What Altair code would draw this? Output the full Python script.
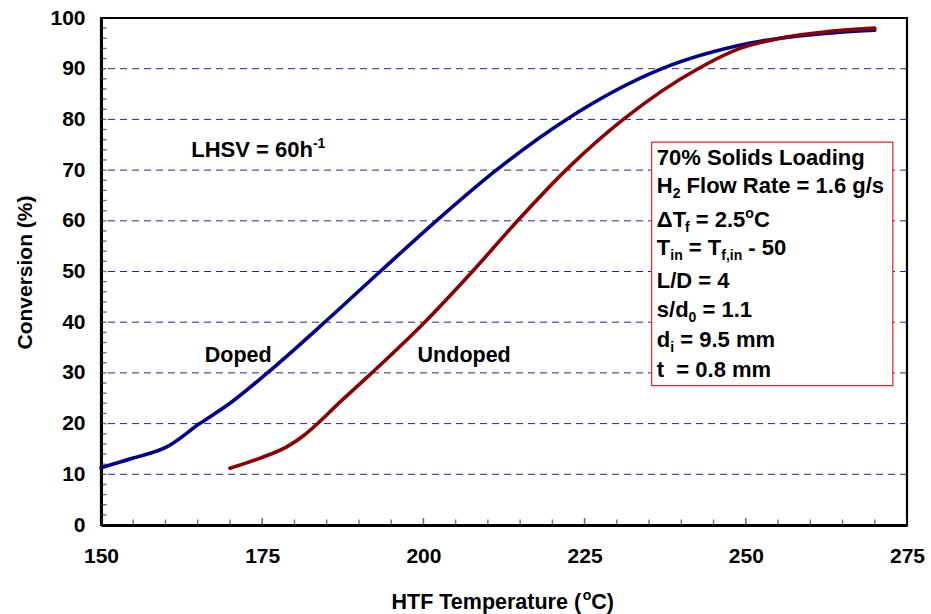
import altair as alt
import pandas as pd

# ---- data -------------------------------------------------------------
temps_doped = [150, 155, 160.2, 165.3, 170, 175.8, 184.7, 193.3, 202.0, 211.3,
               222.2, 237.0, 250.5, 264.6, 270]
conv_doped = [11.3, 13.2, 15.4, 20.0, 24.0, 30.0, 40.0, 50.0, 60.0, 70.0,
              80.0, 90.0, 95.0, 97.2, 97.6]

temps_undoped = [170, 174.7, 178.8, 181.4, 183.5, 186.6, 192.0, 200.2, 207.6, 214.6,
                 222.1, 231.0, 242.6, 249.1, 255.3, 262.0, 270]
conv_undoped = [11.2, 13.2, 15.4, 17.6, 19.9, 23.7, 30.0, 40.0, 50.0, 60.0,
                70.0, 80.0, 90.0, 94.0, 96.0, 97.2, 98.0]

series_names = ["Doped", "Undoped"]
series_colors = ["#00008E", "#8B0000"]

x_ticks = [150, 175, 200, 225, 250, 275]
y_ticks = list(range(0, 101, 10))
grid_levels = list(range(10, 100, 10))
x_minor = list(range(150, 276, 5))
y_minor = list(range(0, 101, 2))

box_lines = [
    [("70% Solids Loading", "n")],
    [("H", "n"), ("2", "sub"), (" Flow Rate = 1.6 g/s", "n")],
    [("\u0394T", "n"), ("f", "sub"), (" = 2.5", "n"), ("o", "sup"), ("C", "n")],
    [("T", "n"), ("in", "sub"), (" = T", "n"), ("f,in", "sub"), (" - 50", "n")],
    [("L/D = 4", "n")],
    [("s/d", "n"), ("0", "sub"), (" = 1.1", "n")],
    [("d", "n"), ("i", "sub"), (" = 9.5 mm", "n")],
    [("t  = 0.8 mm", "n")],
]

# ---- geometry ---------------------------------------------------------
W, H = 806, 507
X0, X1 = 150, 275
Y0, Y1 = 0, 100
UX = (X1 - X0) / W      # data units per pixel, x
UY = (Y1 - Y0) / H      # data units per pixel, y
FONT = "Liberation Sans"

# Arial / Liberation Sans Bold advance widths (1/1000 em)
ADV = {" ": 278, "%": 889, "(": 333, ")": 333, ",": 278, "-": 333, ".": 278,
       "/": 278, "=": 584, "A": 722, "C": 722, "D": 722, "F": 611, "H": 722,
       "L": 611, "R": 722, "S": 667, "T": 611, "U": 722, "V": 667, "a": 556,
       "d": 611, "e": 556, "f": 333, "g": 611, "h": 611, "i": 278, "l": 278,
       "m": 889, "n": 611, "o": 611, "p": 611, "r": 389, "s": 556, "t": 333,
       "u": 611, "w": 778, "\u0394": 670}
for ch in "0123456789":
    ADV[ch] = 556


def text_width(s, size):
    return sum(ADV.get(c, 600) for c in s) / 1000.0 * size


MAIN, SMALL = 22, 14
SHIFT = {"n": 0, "sub": 5, "sup": -9}


def rich_rows(parts, x, y, size=MAIN, small=SMALL, center=False):
    """Lay out a run of normal / subscript / superscript pieces from a
    left (or centre) anchor in data coordinates on one baseline."""
    sizes = [size if k == "n" else small for _, k in parts]
    total = sum(text_width(t, s) for (t, _), s in zip(parts, sizes))
    off = -total / 2 if center else 0.0
    rows = []
    for (t, k), s in zip(parts, sizes):
        # leading blanks become an explicit advance (they are not rendered)
        body = t.lstrip(" ")
        off += text_width(t[:len(t) - len(body)], s)
        rows.append({"x": x + off * UX, "y": y - SHIFT[k] * UY,
                     "text": body.replace(" ", "\u00a0"), "fs": s})
        off += text_width(body, s)
    return rows


# ---- curves -----------------------------------------------------------
curves = pd.concat([
    pd.DataFrame({"T": temps_doped, "C": conv_doped, "series": series_names[0]}),
    pd.DataFrame({"T": temps_undoped, "C": conv_undoped, "series": series_names[1]}),
])

xs = alt.Scale(domain=[X0, X1], nice=False, zero=False)
ys = alt.Scale(domain=[Y0, Y1], nice=False)

label_style = dict(labelFont=FONT, labelFontSize=21, labelFontWeight="bold",
                   labelColor="black", labelFlush=False, labelOverlap=False)

base_x = alt.X("T:Q", scale=xs,
               axis=alt.Axis(values=x_ticks, ticks=False, grid=False, title=None,
                             labelPadding=20, domainColor="black", domainWidth=3,
                             **label_style))
base_y = alt.Y("C:Q", scale=ys,
               axis=alt.Axis(values=y_ticks, ticks=False, grid=False,
                             title="Conversion (%)", titleFont=FONT, titleFontSize=21,
                             titleFontWeight="bold", titleColor="black",
                             titleAngle=-90, titleX=-76, titleY=254,
                             titleAlign="center", titleBaseline="middle",
                             labelPadding=16, domainColor="black", domainWidth=3,
                             **label_style))

lines = alt.Chart(curves).mark_line(interpolate="monotone", strokeWidth=3.6,
                                    strokeCap="round").encode(
    x=base_x, y=base_y,
    color=alt.Color("series:N", scale=alt.Scale(domain=series_names, range=series_colors),
                    legend=None),
    detail="series:N",
)

grid = alt.Chart(pd.DataFrame({"g": grid_levels})).mark_rule(
    color="#00008B", opacity=0.85, strokeWidth=1, strokeDash=[7, 5]
).encode(y=alt.Y("g:Q", scale=ys))

xtick_df = pd.DataFrame({"t": x_minor, "major": [v % 25 == 0 for v in x_minor]})
xticks_minor = alt.Chart(xtick_df[~xtick_df.major]).mark_tick(
    orient="vertical", size=11, thickness=1.4, color="#333333", clip=True
).encode(x=alt.X("t:Q", scale=xs), y=alt.datum(0, scale=ys))
xticks_major = alt.Chart(xtick_df[xtick_df.major]).mark_tick(
    orient="vertical", size=14, thickness=1.6, color="#333333", clip=True
).encode(x=alt.X("t:Q", scale=xs), y=alt.datum(0, scale=ys))
yticks = alt.Chart(pd.DataFrame({"t": y_minor})).mark_tick(
    orient="horizontal", size=11, thickness=1.4, color="#333333", clip=True
).encode(y=alt.Y("t:Q", scale=ys), x=alt.datum(X0, scale=xs))

# ---- annotation box ---------------------------------------------------
box = alt.Chart(pd.DataFrame({"x": [235.4], "x2": [272.8], "y": [27.5], "y2": [75.5]})).mark_rect(
    fill="white", stroke="#E8202A", strokeWidth=1.2
).encode(x=alt.X("x:Q", scale=xs), x2="x2:Q", y=alt.Y("y:Q", scale=ys), y2="y2:Q")

box_x = 236.2
box_baselines = [71.0, 65.5, 58.8, 53.3, 46.7, 41.0, 35.1, 29.2]
rows = []
for parts, yb in zip(box_lines, box_baselines):
    rows += rich_rows(parts, box_x, yb)

rows += rich_rows([("LHSV = 60h", "n"), ("-1", "sup")], 164.0, 72.6)
rows += rich_rows([("Doped", "n")], 166.1, 32.1, size=21.5)
rows += rich_rows([("Undoped", "n")], 199.1, 32.1, size=21.5)
rows += rich_rows([("HTF Temperature (", "n"), ("o", "sup"), ("C)", "n")],
                  212.3, -16.6, size=21.5, center=True)

texts = alt.Chart(pd.DataFrame(rows)).mark_text(
    align="left", baseline="alphabetic", font=FONT, fontWeight="bold", color="black"
).encode(
    x=alt.X("x:Q", scale=xs), y=alt.Y("y:Q", scale=ys), text="text:N",
    size=alt.Size("fs:Q", scale=None, legend=None),
)

chart = alt.layer(
    grid, xticks_minor, xticks_major, yticks, lines, box, texts
).properties(
    width=W, height=H,
    autosize=alt.AutoSizeParams(type="none"),
    padding={"left": 101, "top": 18, "right": 24, "bottom": 89},
    background="white",
).configure_view(
    stroke="black", strokeWidth=2.2
)

chart.save("out.html", embed_options={"renderer": "svg", "actions": False})
